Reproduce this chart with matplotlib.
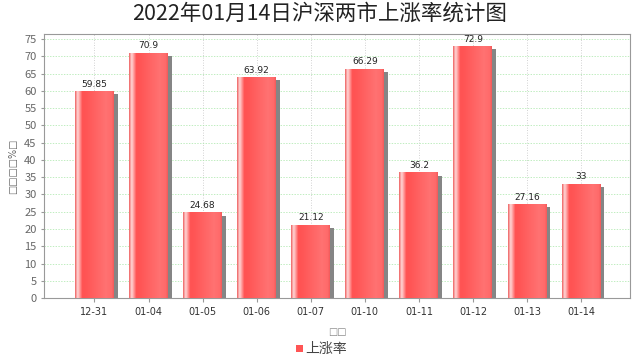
import numpy as np
import matplotlib
matplotlib.use("Agg")
import matplotlib.pyplot as plt
from matplotlib.patches import Rectangle

plt.rcParams['font.family'] = ['Noto Sans CJK SC', 'DejaVu Sans']

dates = ["12-31", "01-04", "01-05", "01-06", "01-07", "01-10", "01-11", "01-12", "01-13", "01-14"]
rates = [59.85, 70.9, 24.68, 63.92, 21.12, 66.29, 36.2, 72.9, 27.16, 33]
labels = ["59.85", "70.9", "24.68", "63.92", "21.12", "66.29", "36.2", "72.9", "27.16", "33"]

fig = plt.figure(figsize=(6.4, 3.6), dpi=100)
ax = fig.add_axes([0.069, 0.172, 0.915, 0.734])

x = np.arange(len(dates))
width = 0.72
ax.set_xlim(-0.93, 9.9)
ax.set_ylim(0, 76.5)

# horizontal gradient for the bars
stops = [0.0, 0.06, 0.12, 0.18, 0.3, 0.8, 0.95, 1.0]
cols = ["#f06a6a", "#ffd6d6", "#ff9a9a", "#ff5252", "#ff5656", "#ff7272", "#ff6a6a", "#f25c5c"]
cmap = matplotlib.colors.LinearSegmentedColormap.from_list("bar", list(zip(stops, cols)))
grad = np.linspace(0, 1, 64).reshape(1, -1)

for xi, v in zip(x, rates):
    left = xi - width / 2
    ax.add_patch(Rectangle((left + 0.07, 0), width, v - 0.9, facecolor="#858585",
                           edgecolor="none", zorder=2))
    ax.imshow(grad, cmap=cmap, aspect="auto", extent=(left, left + width, 0, v),
              zorder=3, interpolation="bilinear")

for xi, v, t in zip(x, rates, labels):
    ax.text(xi, v + 0.8, t, ha="center", va="bottom", fontsize=6.5, color="#222222",
            family="DejaVu Sans")

ax.set_xticks(x)
ax.set_xticklabels(dates, fontsize=7, color="#333333", family="DejaVu Sans")
ax.set_yticks(np.arange(0, 80, 5))
ax.tick_params(axis="y", labelsize=8, labelcolor="#666666", color="#999999", length=2)
ax.tick_params(axis="x", color="#999999", length=3)

ax.grid(axis="y", color="#a6e6a6", linestyle=(0, (2, 2)), linewidth=0.5, zorder=0)
ax.grid(axis="x", color="#c4c4c4", linestyle=(0, (1, 2)), linewidth=0.6, zorder=0)
ax.set_axisbelow(True)
for s in ax.spines.values():
    s.set_color("#999999")

ax.set_ylabel("□□□□%□", fontsize=7, color="#666666", family="DejaVu Sans")
ax.set_xlabel("□□", fontsize=7, color="#888888", family="DejaVu Sans", labelpad=7)

fig.text(0.5, 0.962, "2022年01月14日沪深两市上涨率统计图", ha="center", va="center",
         fontsize=15.5, color="#222222", style="italic")

fig.patches.append(Rectangle((0.462, 0.022), 0.011, 0.02, transform=fig.transFigure,
                             facecolor="#ff5555", edgecolor="none"))
fig.text(0.477, 0.032, "上涨率", ha="left", va="center", fontsize=10, color="#444444")

fig.savefig("out.png", dpi=100)
